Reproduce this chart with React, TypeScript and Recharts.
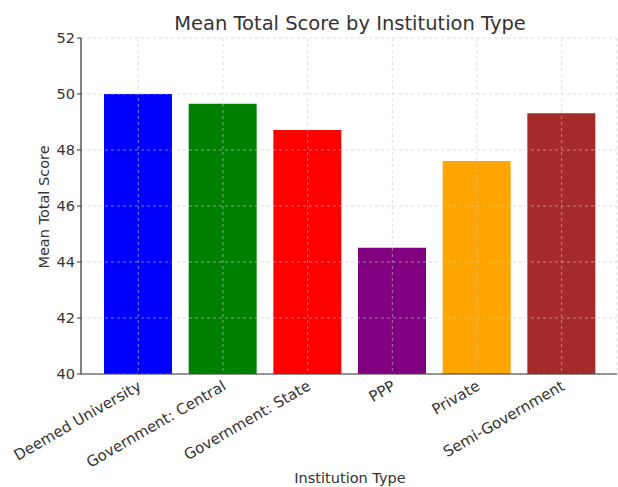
import React from 'react';
import { BarChart, Bar, Cell, XAxis, YAxis, CartesianGrid } from 'recharts';

const categories = [
  'Deemed University',
  'Government: Central',
  'Government: State',
  'PPP',
  'Private',
  'Semi-Government',
];
const meanScores = [50.0, 49.65, 48.71, 44.51, 47.61, 49.31];
const barColors = ['#0000ff', '#008000', '#ff0000', '#800080', '#ffa500', '#a52a2a'];
const yTicks = [40, 42, 44, 46, 48, 50, 52];

const FONT = '"DejaVu Sans", sans-serif';
const TEXT = '#333333';

const data = categories.map((name, i) => ({ name, score: meanScores[i] }));

function RotatedTick(props: any) {
  const { x, y, payload } = props;
  const ax = x + 4;
  const ay = y + 13;
  return (
    <text
      x={ax}
      y={ay}
      textAnchor="end"
      fill={TEXT}
      fontSize={15}
      fontFamily={FONT}
      transform={`rotate(-30, ${ax}, ${ay})`}
    >
      {payload.value}
    </text>
  );
}

export default function App() {
  return (
    <div style={{ position: 'absolute', left: 0, top: 0, width: 618, height: 487, background: '#fff', fontFamily: FONT }}>
      <div
        style={{
          position: 'absolute',
          left: 0,
          width: 700,
          top: 12,
          textAlign: 'center',
          fontSize: 19.5,
          lineHeight: '24px',
          color: TEXT,
        }}
      >
        Mean Total Score by Institution Type
      </div>
      <BarChart
        width={618}
        height={487}
        data={data}
        margin={{ top: 38, right: 1, bottom: 0, left: 0 }}
        barSize={68}
      >
        <XAxis
          dataKey="name"
          height={113}
          interval={0}
          padding={{ left: 15, right: 13 }}
          axisLine={{ stroke: TEXT, strokeWidth: 1.2 }}
          tickLine={false}
          tickSize={0}
          tick={<RotatedTick />}
        />
        <YAxis
          width={81}
          domain={[40, 52]}
          ticks={yTicks}
          allowDataOverflow
          axisLine={{ stroke: TEXT, strokeWidth: 1.2 }}
          tickLine={{ stroke: TEXT }}
          tickSize={4}
          tick={{ fill: TEXT, fontSize: 14.5, fontFamily: FONT }}
        />
        <Bar dataKey="score" isAnimationActive={false}>
          {data.map((d, i) => (
            <Cell key={d.name} fill={barColors[i]} />
          ))}
        </Bar>
        <CartesianGrid zIndex={350} stroke="#c8c8c8" strokeOpacity={0.6} strokeDasharray="3 3" />
      </BarChart>
      <div
        style={{
          position: 'absolute',
          left: 0,
          width: 700,
          top: 469,
          textAlign: 'center',
          fontSize: 14.5,
          lineHeight: '18px',
          color: TEXT,
        }}
      >
        Institution Type
      </div>
      <div
        style={{
          position: 'absolute',
          left: 44,
          top: 207,
          transform: 'translate(-50%, -50%) rotate(-90deg)',
          whiteSpace: 'nowrap',
          fontSize: 14.5,
          lineHeight: '18px',
          color: TEXT,
        }}
      >
        Mean Total Score
      </div>
    </div>
  );
}
